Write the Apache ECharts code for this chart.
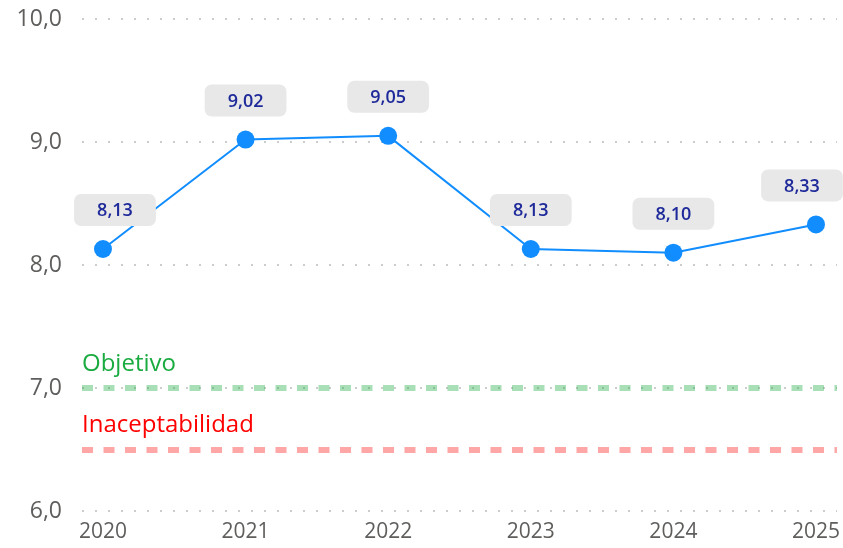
<!DOCTYPE html>
<html>
<head>
<meta charset="utf-8">
<style>
  html, body { margin: 0; padding: 0; background: #fff; }
  #chart { width: 843px; height: 548px; }
</style>
<script src="https://cdn.jsdelivr.net/npm/echarts@6/dist/echarts.min.js"></script>
</head>
<body>
<div id="chart"></div>
<script>
// datos
const years = [2020, 2021, 2022, 2023, 2024, 2025];
const scores = [8.13, 9.02, 9.05, 8.13, 8.10, 8.33];
const objetivo = 7.0;
const inaceptable = 6.5;

const fontFamily = "'Segoe UI', 'Open Sans', 'Noto Sans', sans-serif";
const comma = (v, d) => v.toFixed(d).replace('.', ',');

// el primer y último rótulo se desplazan para no salirse
const labelOffsets = { 0: [12, 0], 5: [-14, 0] };

const chart = echarts.init(document.getElementById('chart'));

chart.setOption({
  animation: false,
  grid: { left: 82, right: 5, top: 19, bottom: 37 },
  xAxis: {
    type: 'value',
    min: 2020 - 21 / 142.8,
    max: 2025 + 21 / 142.8,
    axisLine: { show: false },
    axisTick: { show: false },
    splitLine: { show: false },
    axisLabel: {
      customValues: years,
      formatter: v => String(v),
      color: '#605E5C',
      fontSize: 21,
      fontFamily,
      margin: 11
    }
  },
  yAxis: {
    type: 'value',
    min: 6,
    max: 10,
    interval: 1,
    axisLine: { show: false },
    axisTick: { show: false },
    axisLabel: {
      formatter: v => comma(v, 1),
      color: '#605E5C',
      fontSize: 23,
      fontFamily,
      margin: 20
    },
    splitLine: {
      lineStyle: { color: '#cccccc', width: 2, type: [2, 11] }
    }
  },
  series: [
    {
      // líneas de referencia
      type: 'line',
      z: -1,
      data: [],
      markLine: {
        silent: true,
        symbol: 'none',
        data: [
          {
            yAxis: objetivo,
            lineStyle: { color: 'rgba(26,171,64,0.38)', width: 6, type: [11, 10.5] },
            label: {
              formatter: 'Objetivo',
              position: 'insideStartTop',
              color: '#1AAB40',
              fontSize: 24,
              fontFamily,
              distance: [0, 12]
            }
          },
          {
            yAxis: inaceptable,
            lineStyle: { color: 'rgba(255,60,60,0.45)', width: 6, type: [11, 10.5] },
            label: {
              formatter: 'Inaceptabilidad',
              position: 'insideStartTop',
              color: '#FF0000',
              fontSize: 24,
              fontFamily,
              distance: [0, 12]
            }
          }
        ]
      }
    },
    {
      type: 'line',
      z: 3,
      data: years.map((y, i) => ({
        value: [y, scores[i]],
        label: labelOffsets[i] ? { offset: labelOffsets[i] } : undefined
      })),
      symbol: 'circle',
      symbolSize: 18,
      lineStyle: { color: '#118DFF', width: 2 },
      itemStyle: { color: '#118DFF' },
      label: {
        show: true,
        position: 'top',
        distance: 14,
        formatter: p => comma(p.value[1], 2),
        color: '#1F2A9A',
        fontSize: 18,
        fontWeight: 600,
        fontFamily,
        backgroundColor: '#E8E8E8',
        borderRadius: 7,
        padding: [8, 23, 6, 23]
      }
    }
  ]
});
</script>
</body>
</html>
